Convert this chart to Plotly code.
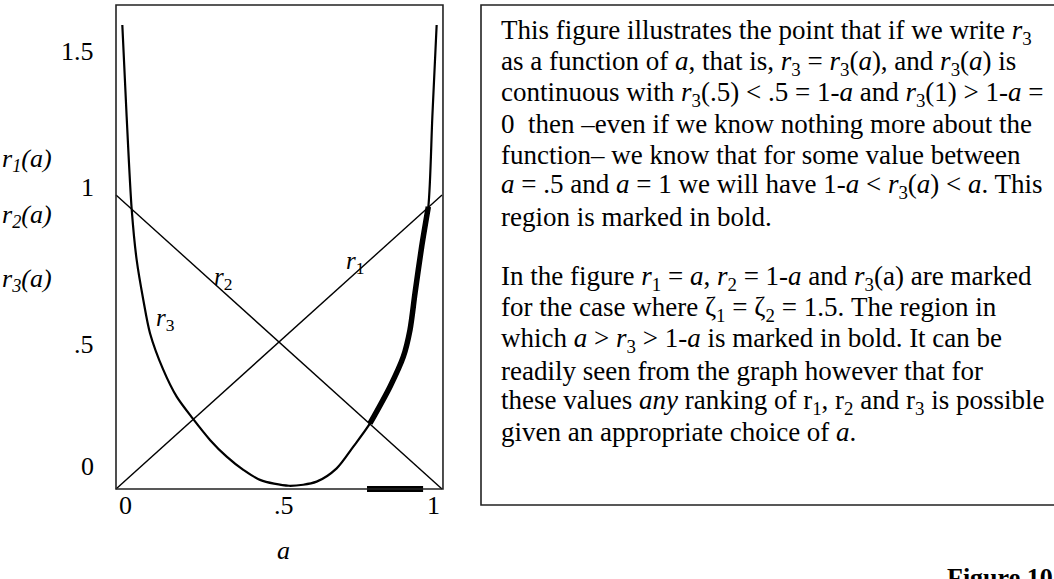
import plotly.graph_objects as go

# ---- data -------------------------------------------------------------
# r1(a) = a and r2(a) = 1 - a, straight lines across the unit interval
line_a = [0.0, 1.0]
r1_vals = [0.0, 1.0]
r2_vals = [1.0, 0.0]

# r3(a) for zeta1 = zeta2 = 1.5
r3_a = [0.0194, 0.0327, 0.0481, 0.0634, 0.0838, 0.1043, 0.1452, 0.1861,
        0.2352, 0.2883, 0.3395, 0.3906, 0.4417, 0.5307, 0.6155, 0.6769,
        0.7280, 0.7791, 0.8405, 0.8814, 0.9018, 0.9172, 0.9376, 0.9581,
        0.9704, 0.9836]
r3_vals = [1.578, 1.266, 0.952, 0.779, 0.643, 0.530, 0.405, 0.314,
           0.240, 0.167, 0.110, 0.065, 0.031, 0.011, 0.025, 0.070,
           0.144, 0.223, 0.348, 0.450, 0.541, 0.666, 0.824, 0.960,
           1.266, 1.578]

# region where 1-a < r3(a) < a
bold_from, bold_to = 0.7791, 0.9581
# the same region marked on the a-axis
axis_bar_a = [0.77, 0.942]
axis_bar_y = [0.0, 0.0]

y_ticks = [0, 0.5, 1, 1.5]
y_tick_text = ["0", ".5", "1", "1.5"]
x_ticks = [0, 0.5, 1]
x_tick_text = ["0", ".5", "1"]

text_lines = [
    "This figure illustrates the point that if we write <i>r</i><sub>3</sub>",
    "as a function of <i>a</i>, that is, <i>r</i><sub>3</sub> = <i>r</i><sub>3</sub>(<i>a</i>), and <i>r</i><sub>3</sub>(<i>a</i>) is",
    "continuous with <i>r</i><sub>3</sub>(.5) &lt; .5 = 1-<i>a</i> and <i>r</i><sub>3</sub>(1) &gt; 1-<i>a</i> =",
    "0  then \u2013even if we know nothing more about the",
    "function\u2013 we know that for some value between",
    "<i>a</i> = .5 and <i>a</i> = 1 we will have 1-<i>a</i> &lt; <i>r</i><sub>3</sub>(<i>a</i>) &lt; <i>a</i>. This",
    "region is marked in bold.",
    "",
    "In the figure <i>r</i><sub>1</sub> = <i>a</i>, <i>r</i><sub>2</sub> = 1-<i>a</i> and <i>r</i><sub>3</sub>(a) are marked",
    "for the case where \u03b6<sub>1</sub> = \u03b6<sub>2</sub> = 1.5. The region in",
    "which <i>a</i> &gt; <i>r</i><sub>3</sub> &gt; 1-<i>a</i> is marked in bold. It can be",
    "readily seen from the graph however that for",
    "these values <i>any</i> ranking of r<sub>1</sub>, r<sub>2</sub> and r<sub>3</sub> is possible",
    "given an appropriate choice of <i>a</i>.",
]

# ---- layout geometry (pixels in a 1054 x 579 page) --------------------
W, H = 1054, 579
PX_X0, PX_X1 = 116.0, 442.0     # pixel of a = 0 and a = 1
PX_Y0, PX_PER_Y = 489.0, 294.0  # pixel of r = 0, pixels per unit of r
x_range = [-0.02, 1.02]
y_range = [-0.03, 1.66]
ppx = PX_X1 - PX_X0
dom_x = [(PX_X0 + x_range[0] * ppx) / W, (PX_X0 + x_range[1] * ppx) / W]
dom_y = [(H - (PX_Y0 - y_range[0] * PX_PER_Y)) / H,
         (H - (PX_Y0 - y_range[1] * PX_PER_Y)) / H]

SERIF = "Liberation Serif, Times New Roman, serif"
BLACK = "#000000"

fig = go.Figure()

fig.add_trace(go.Scatter(x=line_a, y=r1_vals, mode="lines",
                         line=dict(color=BLACK, width=1.4)))
fig.add_trace(go.Scatter(x=line_a, y=r2_vals, mode="lines",
                         line=dict(color=BLACK, width=1.4)))
fig.add_trace(go.Scatter(x=r3_a, y=r3_vals, mode="lines",
                         line=dict(color=BLACK, width=2.2, shape="spline", smoothing=0.8)))

bold_a = [a for a in r3_a if bold_from <= a <= bold_to]
bold_v = [v for a, v in zip(r3_a, r3_vals) if bold_from <= a <= bold_to]
fig.add_trace(go.Scatter(x=bold_a, y=bold_v, mode="lines",
                         line=dict(color=BLACK, width=5.5, shape="spline", smoothing=0.8)))
fig.add_trace(go.Scatter(x=axis_bar_a, y=axis_bar_y, mode="lines",
                         line=dict(color=BLACK, width=6)))

# plot frame
fig.add_shape(type="rect", xref="x", yref="y", x0=0, x1=1.003, y0=0,
              y1=(PX_Y0 - 5) / PX_PER_Y, line=dict(color="#222222", width=1.6),
              layer="above")

# text box on the right
fig.add_shape(type="rect", xref="paper", yref="paper",
              x0=481 / W, x1=1.01, y0=(H - 505) / H, y1=(H - 5) / H,
              line=dict(color="#222222", width=1.6))

ann = []
# y tick labels (nudged in pixels: positive moves up)
y_shift = {"0": 23, ".5": -2, "1": 8, "1.5": -3}
for v, t in zip(y_ticks, y_tick_text):
    ann.append(dict(x=96 / W, xref="paper", y=v, yref="y", text=t,
                    xanchor="right", yanchor="middle", showarrow=False,
                    yshift=y_shift[t], font=dict(family=SERIF, size=26, color=BLACK)))
# x tick labels
x_shift = {"0": 9, ".5": 5, "1": -9}
for v, t in zip(x_ticks, x_tick_text):
    ann.append(dict(x=v, xref="x", y=(H - 505) / H, yref="paper", text=t,
                    xanchor="center", yanchor="middle", showarrow=False,
                    xshift=x_shift[t], font=dict(family=SERIF, size=26, color=BLACK)))
# axis titles
ann.append(dict(x=283 / W, xref="paper", y=(H - 550) / H, yref="paper",
                text="<i>a</i>", showarrow=False, xanchor="center", yanchor="middle",
                font=dict(family=SERIF, size=26, color=BLACK)))
for i, lab in enumerate(["<i>r<sub>1</sub>(a)</i>", "<i>r<sub>2</sub>(a)</i>",
                         "<i>r<sub>3</sub>(a)</i>"]):
    ann.append(dict(x=0, xref="paper", y=(H - [160, 216, 280][i]) / H, yref="paper",
                    text=lab, showarrow=False, xanchor="left", yanchor="middle",
                    font=dict(family=SERIF, size=26, color=BLACK)))
# curve labels
for txt, xa, ya in [("<i>r</i><sub>1</sub>", 0.733, 0.772),
                    ("<i>r</i><sub>2</sub>", 0.327, 0.716),
                    ("<i>r</i><sub>3</sub>", 0.153, 0.578)]:
    ann.append(dict(x=xa, y=ya, xref="x", yref="y", text=txt, showarrow=False,
                    xanchor="center", yanchor="middle",
                    font=dict(family=SERIF, size=25, color=BLACK)))
# explanatory text
for i, line in enumerate(text_lines):
    if not line:
        continue
    ann.append(dict(x=499 / W, xref="paper", y=(H - (32 + i * 30.8)) / H, yref="paper",
                    text=line, showarrow=False, xanchor="left", yanchor="middle",
                    font=dict(family=SERIF, size=27, color=BLACK)))
# figure number
ann.append(dict(x=1000 / W, xref="paper", y=(H - 577) / H, yref="paper",
                text="<b>Figure 10</b>", showarrow=False, xanchor="center", yanchor="middle",
                font=dict(family=SERIF, size=26, color=BLACK)))

fig.update_layout(
    width=W, height=H, margin=dict(l=0, r=0, t=0, b=0),
    paper_bgcolor="white", plot_bgcolor="white", showlegend=False,
    annotations=ann,
    xaxis=dict(domain=dom_x, range=x_range, visible=False, fixedrange=True),
    yaxis=dict(domain=dom_y, range=y_range, visible=False, fixedrange=True),
)

fig.write_html("out.html")
